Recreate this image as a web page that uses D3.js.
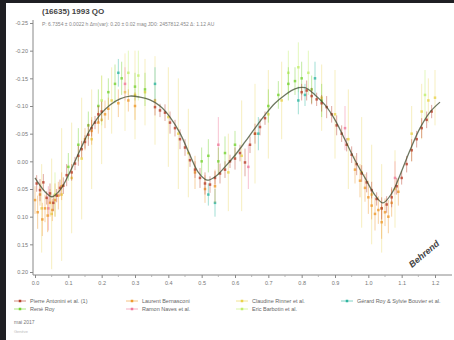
<!DOCTYPE html>
<html>
<head>
<meta charset="utf-8">
<script src="https://cdn.jsdelivr.net/npm/d3@7"></script>
<style>
  html, body { margin: 0; padding: 0; background: #1f1f23; }
  svg { display: block; }
  text { font-family: "Liberation Sans", "DejaVu Sans", sans-serif; }
</style>
</head>
<body>
<svg id="chart" width="454" height="340"></svg>
<script>
// Rotation phase ticks and relative magnitude ticks
const xTicks = [0, 0.1, 0.2, 0.3, 0.4, 0.5, 0.6, 0.7, 0.8, 0.9, 1.0, 1.1, 1.2];
const xTickLabels = ["0.0", "0.1", "0.2", "0.3", "0.4", "0.5", "0.6", "0.7", "0.8", "0.9", "1.0", "1.1", "1.2"];
const yTicks = [-0.25, -0.20, -0.15, -0.10, -0.05, 0.00, 0.05, 0.10, 0.15, 0.20];
const yTickLabels = ["-0.25", "-0.20", "-0.15", "-0.10", "-0.05", "0.00", "0.05", "0.10", "0.15", "0.20"];

// Fitted lightcurve (phase, mag)
const fitPhase = [0.000, 0.030, 0.051, 0.075, 0.105, 0.135, 0.165, 0.195, 0.225, 0.255, 0.285, 0.315, 0.345, 0.375, 0.405, 0.435, 0.465, 0.489, 0.516, 0.540, 0.570, 0.600, 0.630, 0.660, 0.690, 0.720, 0.750, 0.780, 0.810, 0.840, 0.870, 0.900, 0.930, 0.960, 0.990, 1.020, 1.044, 1.071, 1.095, 1.125, 1.155, 1.185, 1.215];
const fitMag = [0.030, 0.055, 0.064, 0.052, 0.019, -0.020, -0.057, -0.084, -0.102, -0.113, -0.118, -0.116, -0.111, -0.100, -0.080, -0.051, -0.011, 0.019, 0.034, 0.028, 0.010, -0.011, -0.035, -0.060, -0.084, -0.105, -0.120, -0.131, -0.133, -0.120, -0.102, -0.075, -0.039, -0.002, 0.030, 0.061, 0.075, 0.057, 0.025, -0.020, -0.060, -0.089, -0.107];

// Observer series: phases, magnitudes, 1-sigma errors
const s1Phase = [0.005, 0.015, 0.025, 0.035, 0.045, 0.055, 0.065, 0.075, 0.085, 0.095, 0.11, 0.12, 0.13, 0.14, 0.15, 0.16, 0.17, 0.18, 0.19, 0.20,
  0.36, 0.375, 0.39, 0.405, 0.42, 0.435, 0.45, 0.465, 0.48, 0.495, 0.51, 0.525, 0.54, 0.555, 0.57, 0.585, 0.60, 0.615, 0.63, 0.645, 0.66, 0.675, 0.69,
  0.80, 0.815, 0.83, 0.845, 0.86, 0.875, 0.89, 0.905, 0.92, 0.935, 0.95, 0.965, 0.98, 0.995, 1.01, 1.025, 1.04, 1.055, 1.07, 1.085, 1.10, 1.115, 1.13, 1.145, 1.16, 1.175, 1.19];
const s1Mag = [0.040, 0.052, 0.038, 0.066, 0.058, 0.075, 0.062, 0.048, 0.044, 0.025, 0.020, 0.004, -0.010, -0.022, -0.035, -0.048, -0.060, -0.070, -0.085, -0.090,
  -0.098, -0.092, -0.088, -0.070, -0.060, -0.040, -0.025, -0.002, 0.015, 0.030, 0.040, 0.042, 0.030, 0.022, 0.015, 0.000, -0.005, -0.015, 0.002, -0.030, -0.050, -0.062, -0.078,
  -0.125, -0.128, -0.118, -0.112, -0.105, -0.098, -0.085, -0.065, -0.050, -0.030, -0.012, 0.005, 0.022, 0.038, 0.052, 0.068, 0.085, 0.078, 0.065, 0.045, 0.030, 0.005, -0.020, -0.040, -0.060, -0.075, -0.090];
const s1Err = [0.015, 0.020, 0.015, 0.012, 0.018, 0.015, 0.012, 0.015, 0.015, 0.020, 0.015, 0.012, 0.018, 0.015, 0.012, 0.020, 0.015, 0.012, 0.015, 0.018,
  0.015, 0.012, 0.015, 0.020, 0.015, 0.018, 0.015, 0.012, 0.015, 0.018, 0.020, 0.015, 0.012, 0.018, 0.015, 0.012, 0.020, 0.015, 0.025, 0.015, 0.018, 0.015, 0.012,
  0.015, 0.018, 0.015, 0.012, 0.015, 0.020, 0.015, 0.018, 0.015, 0.012, 0.015, 0.020, 0.015, 0.018, 0.015, 0.012, 0.020, 0.015, 0.018, 0.015, 0.012, 0.015, 0.020, 0.015, 0.018, 0.015, 0.012];

const s2Phase = [0.000, 0.008, 0.015, 0.022, 0.030, 0.038, 0.045, 0.052, 0.060, 0.070, 0.080, 0.15, 0.17, 0.19, 0.21, 0.22, 0.25, 0.28, 0.30, 0.48, 0.51, 0.54,
  0.96, 0.975, 0.99, 1.00, 1.01, 1.02, 1.03, 1.04, 1.05, 1.06, 1.07, 1.09];
const s2Mag = [0.070, 0.092, 0.060, 0.105, 0.085, 0.098, 0.075, 0.088, 0.070, 0.062, 0.045, -0.040, -0.055, -0.070, -0.085, -0.095, -0.105, -0.110, -0.100, 0.020, 0.050, 0.045,
  0.015, 0.035, 0.048, 0.065, 0.080, 0.095, 0.088, 0.110, 0.092, 0.100, 0.075, 0.055];
const s2Err = [0.025, 0.030, 0.020, 0.030, 0.025, 0.030, 0.025, 0.020, 0.030, 0.025, 0.025, 0.020, 0.025, 0.020, 0.025, 0.020, 0.025, 0.020, 0.025, 0.030, 0.025, 0.030,
  0.025, 0.030, 0.025, 0.030, 0.025, 0.030, 0.025, 0.030, 0.025, 0.030, 0.025, 0.025];

const s3Phase = [0.02, 0.05, 0.08, 0.11, 0.14, 0.17, 0.20, 0.23, 0.27, 0.30, 0.33, 0.36, 0.40, 0.43, 0.46, 0.58, 0.62, 0.66, 0.70, 0.74, 0.86, 0.90, 0.94, 0.98, 1.01, 1.04, 1.08, 1.13, 1.16, 1.18, 1.20];
const s3Mag = [0.085, 0.095, 0.060, 0.030, -0.005, -0.040, -0.075, -0.110, -0.125, -0.120, -0.125, -0.110, -0.080, -0.050, -0.015, 0.020, -0.010, -0.050, -0.085, -0.110, -0.115, -0.085, -0.040, 0.020, 0.060, 0.085, 0.050, -0.050, -0.090, -0.110, -0.115];
const s3Err = [0.080, 0.100, 0.120, 0.100, 0.110, 0.090, 0.080, 0.060, 0.070, 0.080, 0.060, 0.080, 0.090, 0.100, 0.080, 0.070, 0.100, 0.090, 0.080, 0.070, 0.060, 0.080, 0.090, 0.100, 0.090, 0.080, 0.070, 0.050, 0.050, 0.040, 0.050];

const s4Phase = [0.25, 0.36, 0.52, 0.54, 0.67, 0.79, 0.81, 0.84];
const s4Mag = [-0.160, -0.140, 0.060, 0.075, -0.050, -0.110, -0.120, -0.150];
const s4Err = [0.025, 0.030, 0.020, 0.025, 0.030, 0.025, 0.020, 0.030];

const s5Phase = [0.10, 0.13, 0.16, 0.19, 0.22, 0.24, 0.26, 0.30, 0.33, 0.50, 0.52, 0.55, 0.57, 0.60, 0.70, 0.73, 0.76, 0.78, 0.80, 0.83, 0.86];
const s5Mag = [0.010, -0.030, -0.065, -0.100, -0.125, -0.140, -0.150, -0.135, -0.130, 0.000, -0.010, 0.000, -0.015, -0.030, -0.100, -0.120, -0.140, -0.145, -0.150, -0.130, -0.110];
const s5Err = [0.025, 0.030, 0.025, 0.030, 0.025, 0.035, 0.030, 0.025, 0.030, 0.025, 0.030, 0.025, 0.030, 0.025, 0.030, 0.025, 0.030, 0.025, 0.030, 0.025, 0.030];

const s6Phase = [0.04, 0.27, 0.55, 0.64, 0.93, 1.08];
const s6Mag = [0.085, -0.140, -0.030, 0.010, -0.060, 0.030];
const s6Err = [0.040, 0.030, 0.050, 0.040, 0.040, 0.030];

const s7Phase = [0.06, 0.20, 0.28, 0.31, 0.76, 0.79, 0.82, 1.17];
const s7Mag = [0.060, -0.110, -0.160, -0.155, -0.160, -0.170, -0.160, -0.120];
const s7Err = [0.040, 0.045, 0.040, 0.045, 0.040, 0.045, 0.040, 0.045];

const seriesNames = [
  "Pierre Antonini et al. (1)", "Laurent Bernasconi", "Claudine Rinner et al.", "Gérard Roy & Sylvie Bouvier et al.",
  "René Roy", "Ramon Naves et al.", "Eric Barbotin et al."
];
const seriesColors = ["#b8402a", "#ee9a2e", "#e9d24a", "#2fb5a0", "#78d234", "#ef7a9a", "#c2ee6c"];

const series = [
  { phase: s1Phase, mag: s1Mag, err: s1Err },
  { phase: s2Phase, mag: s2Mag, err: s2Err },
  { phase: s3Phase, mag: s3Mag, err: s3Err },
  { phase: s4Phase, mag: s4Mag, err: s4Err },
  { phase: s5Phase, mag: s5Mag, err: s5Err },
  { phase: s6Phase, mag: s6Mag, err: s6Err },
  { phase: s7Phase, mag: s7Mag, err: s7Err }
];

const svg = d3.select("#chart");

// white sheet
svg.append("rect").attr("x", 6).attr("y", 3).attr("width", 448).attr("height", 337).attr("fill", "#ffffff");

const x = d3.scaleLinear().domain([-0.006, 1.245]).range([33, 450]);
const y = d3.scaleLinear().domain([-0.25, 0.20]).range([23, 272]);

// title block
svg.append("text").attr("x", 42).attr("y", 14).attr("font-size", 8).attr("font-weight", "bold").attr("fill", "#444")
  .text("(16635) 1993 QO");
svg.append("text").attr("x", 42).attr("y", 26).attr("font-size", 5).attr("fill", "#888")
  .text("P: 6.7354 ± 0.0022 h    Δm(var): 0.20 ± 0.02 mag    JD0: 2457812.452    Δ: 1.12 AU");

// axes
const yAxis = d3.axisLeft(y).tickValues(yTicks).tickSize(3)
  .tickFormat((d, i) => yTickLabels[i]);
const gy = svg.append("g").attr("transform", "translate(33,0)").call(yAxis);
gy.select(".domain").attr("d", "M0,20V275").attr("stroke", "#888");
gy.selectAll(".tick line").attr("stroke", "#888");
gy.selectAll(".tick text").attr("font-size", 5.5).attr("fill", "#777").attr("x", -5);

const xAxis = d3.axisBottom(x).tickValues(xTicks).tickSize(3)
  .tickFormat((d, i) => xTickLabels[i]);
const gx = svg.append("g").attr("transform", "translate(0,275)").call(xAxis);
gx.select(".domain").attr("d", "M33,0H452").attr("stroke", "#888");
gx.selectAll(".tick line").attr("stroke", "#888");
gx.selectAll(".tick text").attr("font-size", 5.5).attr("fill", "#777").attr("y", 6);

// minor phase ticks
const minor = d3.range(0.05, 1.25, 0.1);
svg.append("g").selectAll("line").data(minor).join("line")
  .attr("x1", d => x(d)).attr("x2", d => x(d)).attr("y1", 275).attr("y2", 277)
  .attr("stroke", "#aaa").attr("stroke-width", 0.8);

// measurements: error bars then points
const plot = svg.append("g");
const order = [2, 6, 5, 4, 3, 1, 0];
order.forEach(k => {
  const s = series[k];
  const pts = s.phase.map((p, i) => ({ p, m: s.mag[i], e: s.err[i] }));
  const g = plot.append("g");
  g.selectAll("line").data(pts).join("line")
    .attr("x1", d => x(d.p)).attr("x2", d => x(d.p))
    .attr("y1", d => y(d.m - d.e)).attr("y2", d => y(d.m + d.e))
    .attr("stroke", seriesColors[k]).attr("stroke-opacity", k === 2 ? 0.35 : 0.45).attr("stroke-width", 1);
  g.selectAll("rect").data(pts).join("rect")
    .attr("x", d => x(d.p) - 1.25).attr("y", d => y(d.m) - 1.25)
    .attr("width", 2.5).attr("height", 2.5)
    .attr("fill", seriesColors[k]).attr("fill-opacity", 0.8);
});

// Fourier fit
const line = d3.line().x(d => x(d[0])).y(d => y(d[1])).curve(d3.curveCatmullRom);
svg.append("path").datum(fitPhase.map((p, i) => [p, fitMag[i]]))
  .attr("d", line).attr("fill", "none").attr("stroke", "#3d4a2c").attr("stroke-width", 1.3).attr("stroke-opacity", 0.75);

// signature
svg.append("text").attr("transform", "translate(412,268) rotate(-40)")
  .attr("font-size", 9).attr("font-style", "italic").attr("font-weight", "bold").attr("fill", "#444")
  .text("Behrend");

// legend
const legX = [14, 126, 236, 341];
const legend = svg.append("g");
seriesNames.forEach((name, i) => {
  const col = i < 4 ? i : i - 4;
  const row = i < 4 ? 0 : 1;
  const lx = legX[col], ly = 303 + row * 8;
  legend.append("line").attr("x1", lx).attr("x2", lx + 12).attr("y1", ly - 2).attr("y2", ly - 2)
    .attr("stroke", seriesColors[i]).attr("stroke-opacity", 0.6);
  legend.append("rect").attr("x", lx + 4.75).attr("y", ly - 3.25).attr("width", 2.5).attr("height", 2.5)
    .attr("fill", seriesColors[i]);
  legend.append("text").attr("x", lx + 16).attr("y", ly).attr("font-size", 5.5).attr("fill", "#666").text(name);
});

svg.append("text").attr("x", 14).attr("y", 324).attr("font-size", 5).attr("fill", "#777").text("mai 2017");
svg.append("text").attr("x", 14).attr("y", 333).attr("font-size", 4).attr("fill", "#bbb").text("Genève");
</script>
</body>
</html>
